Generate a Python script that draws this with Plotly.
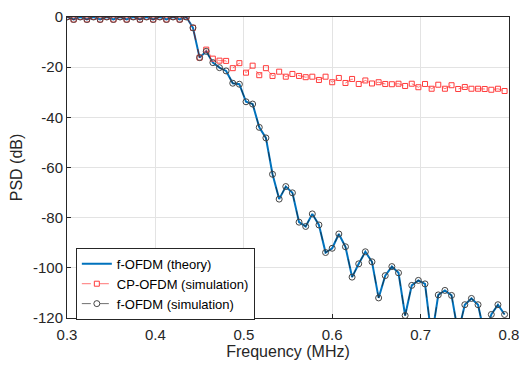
import plotly.graph_objects as go

freq = [0.3, 0.3075, 0.315, 0.3225, 0.33, 0.3375, 0.345, 0.3525, 0.36, 0.3675,
        0.375, 0.3825, 0.39, 0.3975, 0.405, 0.4125, 0.42, 0.4275, 0.435, 0.4425,
        0.45, 0.4575, 0.465, 0.4725, 0.48, 0.4875, 0.495, 0.5025, 0.51, 0.5175,
        0.525, 0.5325, 0.54, 0.5475, 0.555, 0.5625, 0.57, 0.5775, 0.585, 0.5925,
        0.6, 0.6075, 0.615, 0.6225, 0.63, 0.6375, 0.645, 0.6525, 0.66, 0.6675,
        0.675, 0.6825, 0.69, 0.6975, 0.705, 0.7125, 0.72, 0.7275, 0.735, 0.7425,
        0.75, 0.7575, 0.765, 0.7725, 0.78, 0.7875, 0.795]

fofdm_theory = [0, -1, 0, -1, 0, -1, 0, -1, 0, -1,
                0, -1, 0, -1, 0, -1, 0, -1, 0, -4.3,
                -16.2, -13.7, -18.2, -20.2, -21.5, -26.4, -26.8, -33.8, -34.7, -44.0,
                -48.2, -62.7, -72.6, -67.6, -70.1, -81.8, -83.5, -78.5, -82.9, -93.9,
                -92.2, -86.5, -91.6, -103.7, -98.4, -93.6, -97.6, -112.0, -103.1, -99.5,
                -102.0, -119.0, -107.0, -105.0, -106.4, -128.0, -110.8, -109.0, -111.0, -126.0,
                -114.7, -112.2, -114.7, -127.0, -118.6, -114.7, -118.6]

cpofdm_sim = [0, -1, 0, -1, 0, -1, 0, -1, 0, -1,
              0, -1, 0, -1, 0, -1, 0, -1, 0, -4.3,
              -16.2, -13.0, -16.6, -17.4, -17.5, -20.4, -18.4, -22.2, -19.4, -23.2,
              -20.4, -23.5, -21.8, -23.8, -22.7, -23.5, -24.0, -23.8, -25.1, -23.8,
              -26.0, -24.3, -26.3, -24.7, -26.7, -25.3, -26.5, -26.0, -26.7, -26.8,
              -26.6, -27.5, -26.6, -28.0, -26.7, -28.6, -27.0, -28.6, -27.2, -28.7,
              -27.9, -28.6, -28.6, -28.7, -29.0, -28.6, -29.5]

fofdm_sim = [0, -1, 0, -1, 0, -1, 0, -1, 0, -1,
             0, -1, 0, -1, 0, -1, 0, -1, 0, -4.3,
             -16.2, -13.7, -18.2, -20.2, -21.5, -26.4, -26.8, -33.8, -34.7, -44.0,
             -48.2, -62.7, -72.6, -67.6, -70.1, -81.8, -83.5, -78.5, -82.9, -93.9,
             -92.2, -86.5, -91.6, -103.7, -98.4, -93.6, -97.6, -112.0, -103.1, -99.5,
             -102.0, -119.0, -107.0, -105.0, -106.4, -128.0, -110.8, -109.0, -111.0, -126.0,
             -114.7, -112.2, -114.7, -127.0, -118.6, -114.7, -118.6]

x_ticks = [0.3, 0.4, 0.5, 0.6, 0.7, 0.8]
x_tick_text = ["0.3", "0.4", "0.5", "0.6", "0.7", "0.8"]
y_ticks = [0, -20, -40, -60, -80, -100, -120]
y_tick_text = ["0", "-20", "-40", "-60", "-80", "-100", "-120"]

FONT = "Liberation Sans, Arial, sans-serif"

fig = go.Figure()
fig.add_trace(go.Scatter(
    x=freq, y=fofdm_theory, mode="lines", name="f-OFDM (theory)",
    line=dict(color="#0072BD", width=2)))
fig.add_trace(go.Scatter(
    x=freq, y=cpofdm_sim, mode="lines+markers", name="CP-OFDM (simulation)",
    line=dict(color="rgba(255,50,50,0.85)", width=0.8, dash="dash"),
    marker=dict(symbol="square-open", size=5, color="#FF3B3B",
                line=dict(width=1, color="#FF3B3B"))))
fig.add_trace(go.Scatter(
    x=freq, y=fofdm_sim, mode="lines+markers", name="f-OFDM (simulation)",
    line=dict(color="rgba(30,30,30,0.8)", width=0.8, dash="dash"),
    marker=dict(symbol="circle-open", size=6, color="#444444",
                line=dict(width=1, color="#444444"))))

axis_common = dict(
    showgrid=True, gridcolor="#E3E3E3", gridwidth=1,
    showline=True, linecolor="#262626", linewidth=1, mirror=True,
    ticks="inside", ticklen=4, tickcolor="#262626", tickwidth=1,
    zeroline=False, automargin=False, ticklabeloverflow="allow",
    tickfont=dict(family=FONT, size=15, color="#262626"),
)

fig.update_xaxes(range=[0.3, 0.8], tickvals=x_ticks, ticktext=x_tick_text,
                 ticklabelstandoff=3,
                 title=dict(text="Frequency (MHz)", font=dict(family=FONT, size=16, color="#262626"),
                            standoff=8),
                 **axis_common)
fig.update_yaxes(range=[-120, 0], tickvals=y_ticks, ticktext=y_tick_text,
                 title=dict(text="PSD (dB)", font=dict(family=FONT, size=16, color="#262626"),
                            standoff=7),
                 **axis_common)

fig.update_layout(
    width=512, height=352,
    margin=dict(l=59, r=11, t=9, b=42),
    paper_bgcolor="white", plot_bgcolor="white",
    showlegend=True,
    legend=dict(x=0.02, y=0.233, xanchor="left", yanchor="top",
                bgcolor="white", bordercolor="#262626", borderwidth=1,
                font=dict(family=FONT, size=13, color="#000000"),
                tracegroupgap=0, itemwidth=30),
)

fig.write_html("out.html")
